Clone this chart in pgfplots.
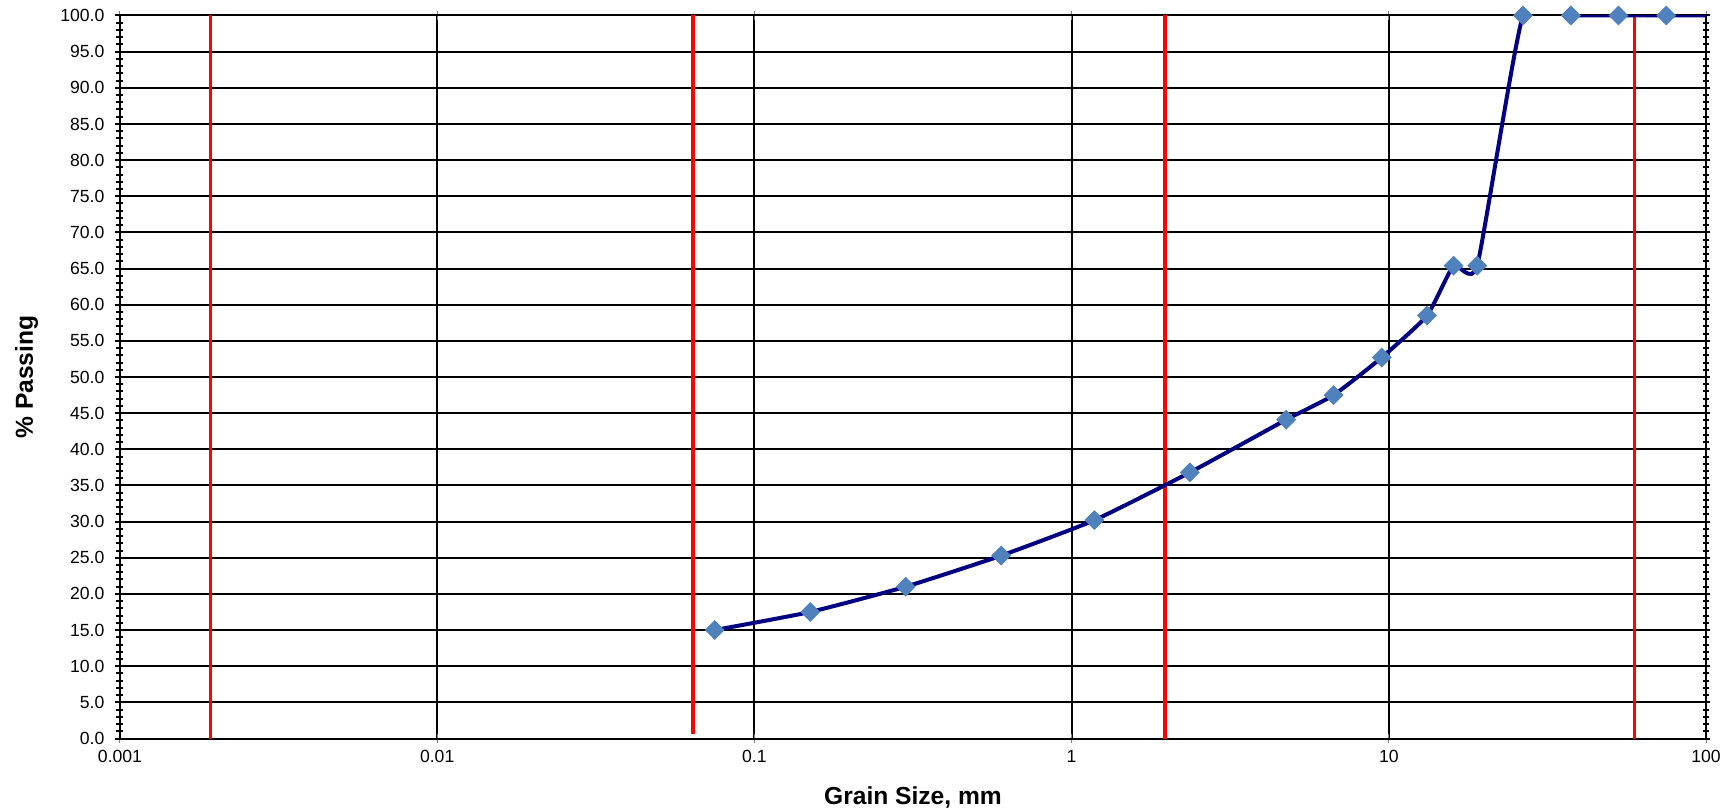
\documentclass[border=0pt]{standalone}
\usepackage{pgfplots}
\pgfplotsset{compat=1.18}
\usepackage{fontspec}
\setmainfont{Liberation Sans}
\definecolor{navyline}{RGB}{0,0,128}
\definecolor{mkblue}{RGB}{79,129,189}
\begin{document}
\begin{tikzpicture}
\begin{axis}[
  scale only axis, width=793pt, height=361.5pt,
  xmode=log, log basis x=10,
  xmin=0.001, xmax=100, ymin=0, ymax=100,
  xtick={0.001,0.01,0.1,1,10,100},
  xticklabels={0.001,0.01,0.1,1,10,100},
  ytick={0,5,...,100},
  minor y tick num=4,
  y tick label style={xshift=-2pt, /pgf/number format/.cd, fixed, fixed zerofill, precision=1},
  /pgf/number format/assume math mode=true,
  xmajorgrids, xminorgrids, ymajorgrids,
  major grid style={black, line width=1pt},
  minor grid style={gray!60, line width=0.5pt},
  axis line style={black, line width=1pt},
  tick align=center,
  major tick length=4.5pt, minor tick length=3.5pt,
  y tick style={black, line width=1pt},
  minor x tick style={draw=none},
  major x tick style={gray, line width=0.5pt},
  ticklabel style={font=\fontsize{8.8}{10}\selectfont},
  xlabel={Grain Size, mm}, ylabel={\% Passing},
  every axis x label/.style={at={(axis description cs:0.5,0)}, anchor=base, yshift=-33pt, font=\bfseries\fontsize{12.3}{14}\selectfont},
  every axis y label/.style={at={([xshift=-43.5pt]axis description cs:0,0.5)}, anchor=base, rotate=90, font=\bfseries\fontsize{12.3}{14}\selectfont},
]
\addplot[red, line width=1.6pt] coordinates {(0.00193,0) (0.00193,100)};
\addplot[red, line width=1.6pt] coordinates {(0.064,0.6) (0.064,100)};
\addplot[red, line width=1.6pt] coordinates {(1.97,0) (1.97,100)};
\addplot[red, line width=1.6pt] coordinates {(59.6,0) (59.6,100)};
\addplot[navyline, line width=2pt, smooth, tension=0.3, no markers] coordinates {
(0.075,15.0) (0.15,17.5) (0.3,21.0) (0.6,25.3) (1.18,30.2) (2.36,36.8)
(4.75,44.1) (6.7,47.5) (9.5,52.7) (13.2,58.5) (16,65.4) (19,65.4)
(26.5,100) (37.5,100) (53,100) (75,100) (100,100)};
\addplot[only marks, mark=square*, mark size=3.3pt, mark options={fill=mkblue, draw=mkblue, rotate=45}] coordinates {
(0.075,15.0) (0.15,17.5) (0.3,21.0) (0.6,25.3) (1.18,30.2) (2.36,36.8)
(4.75,44.1) (6.7,47.5) (9.5,52.7) (13.2,58.5) (16,65.4) (19,65.4)
(26.5,100) (37.5,100) (53,100) (75,100)};
\end{axis}
\pgfresetboundingbox
\useasboundingbox ([shift={(-60pt,-35.5pt)}]current axis.south west) rectangle ([shift={(15pt,7.75pt)}]current axis.north east);
\end{tikzpicture}
\end{document}
